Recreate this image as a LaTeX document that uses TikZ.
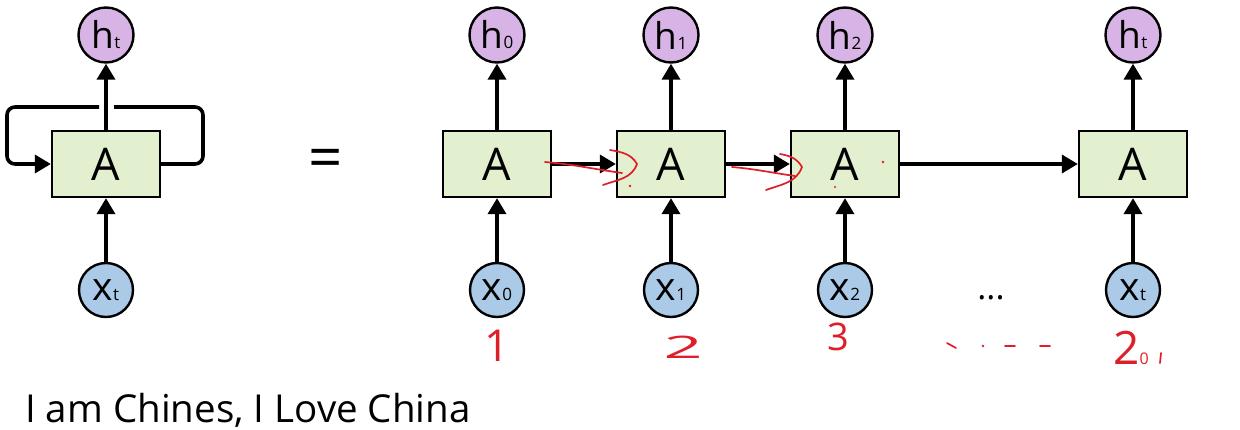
\documentclass[tikz,border=0pt]{standalone}
\usepackage{fontspec}
\setmainfont{Open Sans}
\usetikzlibrary{arrows.meta}
\definecolor{hcol}{RGB}{216,180,230}
\definecolor{xcol}{RGB}{170,202,232}
\definecolor{acol}{RGB}{226,240,207}
\definecolor{ink}{RGB}{222,30,40}
\newcommand\hlab[1]{{\fontsize{37}{37}\selectfont h}{\fontsize{17}{17}\selectfont #1}}
\newcommand\xlab[1]{{\fontsize{39}{39}\selectfont x}{\fontsize{17}{17}\selectfont #1}}
\begin{document}
\begin{tikzpicture}[x=1pt,y=-1pt,
  cell/.style={draw=black, line width=2.3pt, fill=acol, minimum width=108pt, minimum height=66pt, inner sep=0pt, font=\fontsize{45}{45}\selectfont},
  hnode/.style={circle, draw=black, line width=2.4pt, fill=hcol, minimum size=55pt, inner sep=0pt},
  xnode/.style={circle, draw=black, line width=2.4pt, fill=xcol, minimum size=54pt, inner sep=0pt},
  conn/.style={line width=3.6pt, -{Triangle[length=16pt,width=18pt]}},
  plainline/.style={line width=3.6pt},
  redink/.style={draw=ink, line width=1.7pt, line cap=round, line join=round},
  reddigit/.style={text=ink, inner sep=0pt}]
\useasboundingbox (0,0) rectangle (1240,429);
\fill[white] (0,0) rectangle (1240,429);

% folded cell
\node[cell] (A) at (106,164) {A};
\node[hnode] (h) at (106,35) {\hlab{t}};
\node[xnode] (x) at (106,290) {\xlab{t}};
\draw[conn] (A.north) -- (h.south);
\draw[conn] (x.north) -- (A.south);
\coordinate (gapR) at (114,107);
\coordinate (gapL) at (99,107);
\draw[plainline, rounded corners=8pt] (A.east) -- (203,164) -- (203,107) -- (gapR);
\draw[conn, rounded corners=8pt] (gapL) -- (7,107) -- (7,164) -- (A.west);

% equals
\node[inner sep=0pt, font=\fontsize{60}{60}\selectfont] (eq) at (326,164) {=};

% unrolled
\node[cell] (A0) at (497,164) {A};
\node[cell] (A1) at (671,164) {A};
\node[cell] (A2) at (845,164) {A};
\node[cell] (At) at (1133,164) {A};
\node[hnode] (h0) at (497,35) {\hlab{0}};
\node[hnode] (h1) at (671,35) {\hlab{1}};
\node[hnode] (h2) at (845,35) {\hlab{2}};
\node[hnode] (ht) at (1133,35) {\hlab{t}};
\node[xnode] (x0) at (497,290) {\xlab{0}};
\node[xnode] (x1) at (671,290) {\xlab{1}};
\node[xnode] (x2) at (845,290) {\xlab{2}};
\node[xnode] (xt) at (1133,290) {\xlab{t}};
\foreach \n in {0,1,2,t}{
  \draw[conn] (A\n.north) -- (h\n.south);
  \draw[conn] (x\n.north) -- (A\n.south);
}
\draw[conn] (A0.east) -- (A1.west);
\draw[conn] (A1.east) -- (A2.west);
\draw[conn] (A2.east) -- (At.west);
\node[inner sep=0pt, anchor=base, font=\fontsize{34}{34}\selectfont] (dots) at (991,299) {...};

% red handwriting
\draw[redink] (545,162) to[out=-5,in=172] (622,173);
\draw[redink] (610,150) to[out=-10,in=120] (637,164) to[out=-110,in=20] (603,185);
\draw[redink] (732,167) to[out=-5,in=172] (795,176);
\draw[redink] (780,154) to[out=-10,in=120] (802,167) to[out=-110,in=20] (766,190);
\fill[ink] (630,186) circle (1.3);
\fill[ink] (883,162) circle (1.3);
\fill[ink] (835,187) circle (1.1);

\node[reddigit, font=\fontsize{44}{44}\selectfont] (n1) at (497,346) {1};
\node[reddigit, font=\fontsize{31}{31}\selectfont] (n2) at (683,347) {\scalebox{2.2}[1]{2}};
\node[reddigit, font=\fontsize{38}{38}\selectfont] (n3) at (838,337) {3};
\draw[redink] (947,343) -- (956,348);
\fill[ink] (983,346) circle (1.3);
\draw[redink] (1005,346) -- (1015,346);
\draw[redink] (1040,346) -- (1050,346);
\node[reddigit, anchor=base west, font=\fontsize{46}{46}\selectfont] (n20) at (1113,364) {2{\fontsize{16}{16}\selectfont 0}};
\coordinate (tickA) at (1161,353);
\coordinate (tickB) at (1160,363);
\draw[redink] (tickA) -- (tickB);

% caption
\node[anchor=base west, inner sep=0pt, font=\fontsize{38.5}{38.5}\selectfont] (cap) at (25,422) {I am Chines, I Love China};
\end{tikzpicture}
\end{document}
